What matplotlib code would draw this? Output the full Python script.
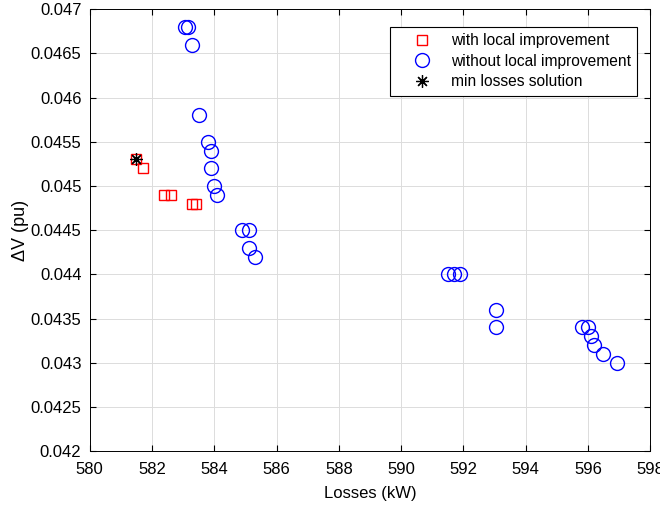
import matplotlib.pyplot as plt
from matplotlib.ticker import FormatStrFormatter

plt.rcParams['font.family'] = ['Liberation Sans', 'DejaVu Sans']

# with local improvement
loc_x = [581.5, 581.7, 582.4, 582.6, 583.3, 583.4]
loc_y = [0.0453, 0.0452, 0.0449, 0.0449, 0.0448, 0.0448]

# without local improvement
noloc_x = [583.05, 583.15, 583.3, 583.5, 583.8, 583.9, 583.9, 584.0, 584.1,
           584.9, 585.1, 585.1, 585.3, 591.5, 591.7, 591.9, 593.05, 593.05,
           595.8, 596.0, 596.1, 596.2, 596.5, 596.95]
noloc_y = [0.0468, 0.0468, 0.0466, 0.0458, 0.0455, 0.0454, 0.0452, 0.0450, 0.0449,
           0.0445, 0.0445, 0.0443, 0.0442, 0.0440, 0.0440, 0.0440, 0.0436, 0.0434,
           0.0434, 0.0434, 0.0433, 0.0432, 0.0431, 0.0430]

# min losses solution
best_x = [581.5]
best_y = [0.0453]

fig = plt.figure(figsize=(6.6, 5.08), dpi=100)
ax = fig.add_axes([0.136, 0.112, 0.849, 0.870])

ax.plot(loc_x, loc_y, 's', mfc='none', mec='red', ms=7.5, mew=1.0,
        label='with local improvement')
ax.plot(noloc_x, noloc_y, 'o', mfc='none', mec='blue', ms=10, mew=1.0,
        label='without local improvement')
ax.plot(best_x, best_y, marker=(8, 2, 0), ls='none', color='black', ms=9, mew=0.9,
        label='min losses solution')

ax.set_xlim(580, 598)
ax.set_ylim(0.042, 0.047)
ax.set_xticks(range(580, 599, 2))
ax.set_yticks([0.042 + 0.0005 * i for i in range(11)])
ax.yaxis.set_major_formatter(FormatStrFormatter('%g'))
ax.tick_params(direction='in', top=True, right=True, labelsize=12, length=4)
ax.tick_params(axis='x', pad=8)
ax.tick_params(axis='y', pad=6)
ax.grid(True, color='#dcdcdc', linewidth=0.7)
ax.set_axisbelow(True)
for s in ax.spines.values():
    s.set_linewidth(0.7)

ax.set_xlabel('Losses (kW)', fontsize=12, labelpad=6)
ax.set_ylabel('ΔV (pu)', fontsize=13, labelpad=1)

leg = ax.legend(loc='upper right', fontsize=11.2, fancybox=False, framealpha=1,
                edgecolor='black', bbox_to_anchor=(0.977, 0.959), borderaxespad=0,
                handletextpad=0.15, handlelength=3.4, labelspacing=0.35)
leg.get_frame().set_linewidth(0.8)

fig.savefig('out.png', dpi=100)
